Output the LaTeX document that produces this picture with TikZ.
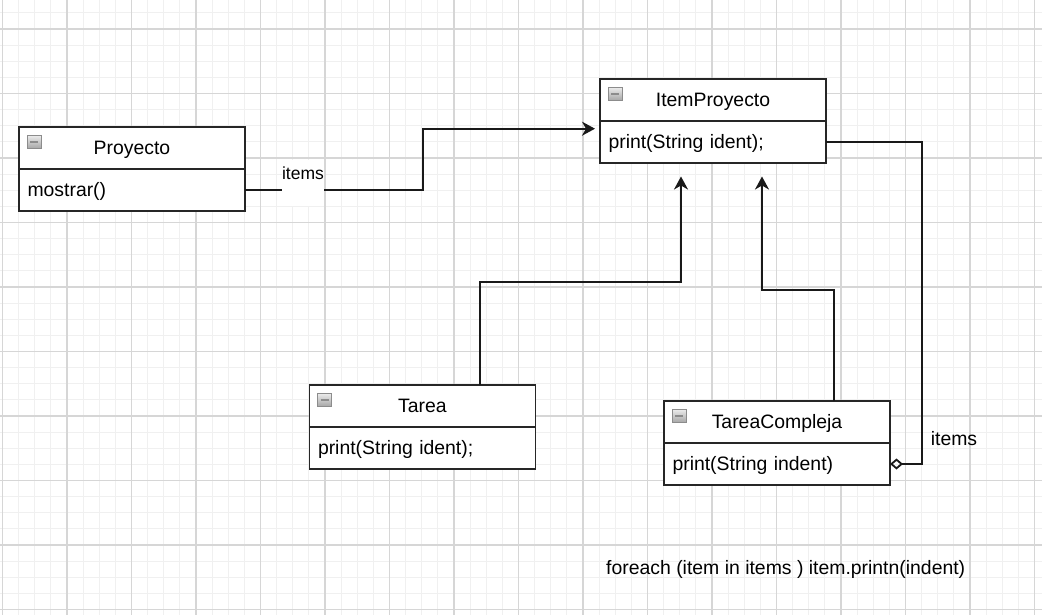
\documentclass[tikz,border=0pt]{standalone}
\usepackage{fontspec}
\setmainfont{Liberation Sans}
\usetikzlibrary{arrows.meta,positioning,calc}

\begin{document}
\begin{tikzpicture}[x=1pt, y=-1pt,
    font=\fontsize{19.4}{23}\selectfont,
    gridminor/.style={draw=black!6, line width=1pt},
    gridmajor/.style={draw=black!16, line width=1.1pt},
    classhead/.style={draw=black!85, line width=1.9pt, fill=white, minimum width=226pt, minimum height=42pt,
      outer sep=0pt, text width=209pt, inner xsep=8.5pt, align=center, text height=13pt, text depth=0pt},
    classbody/.style={classhead, align=left},
    minusicon/.style={draw=black!45, line width=1pt, minimum width=14pt, minimum height=13pt, inner sep=0pt,
      top color=black!8, bottom color=black!35,
      path picture={\draw[line width=1.8pt] ($(path picture bounding box.west)+(3pt,0pt)$) -- ($(path picture bounding box.east)+(-3pt,0pt)$);}},
    assoc/.style={draw=black!90, line width=1.8pt, -{Stealth[length=13pt,width=14pt,inset=4pt]}},
    aggr/.style={draw=black!90, line width=1.8pt, {Diamond[open,length=13pt,width=11pt]}-},
    edgelabel/.style={inner sep=0pt, text height=13pt, text depth=0pt}]

      \useasboundingbox (0,0) rectangle (1042,615);
      \fill[white] (0,0) rectangle (1042,615);

      % grid
      \foreach \i in {0,...,64} \draw[gridminor] ({2.5+16.125*\i},0) -- ({2.5+16.125*\i},615);
      \foreach \j in {-1,...,36} \draw[gridminor] (0,{29+16.125*\j}) -- (1042,{29+16.125*\j});
      \foreach \i in {0,...,16} \draw[gridmajor] ({2.5+64.5*\i},0) -- ({2.5+64.5*\i},615);
      \foreach \j in {0,...,9} \draw[gridmajor] (0,{29+64.5*\j}) -- (1042,{29+64.5*\j});

      % classes
      \node[classhead] (proyecto) at (132,148) {Proyecto};
      \node[classbody, below=0pt of proyecto] (proyecto-ops) {mostrar()};
      \node[minusicon] (proyecto-icon) at ([shift={(15pt,-15pt)}]proyecto.north west) {};

      \node[classhead] (item) at (713,100) {ItemProyecto};
      \node[classbody, below=0pt of item] (item-ops) {print(String ident);};
      \node[minusicon] (item-icon) at ([shift={(15pt,-15pt)}]item.north west) {};

      \node[classhead] (tarea) at (422.5,406) {Tarea};
      \node[classbody, below=0pt of tarea] (tarea-ops) {print(String ident);};
      \node[minusicon] (tarea-icon) at ([shift={(15pt,-15pt)}]tarea.north west) {};

      \node[classhead] (tcompleja) at (777,422) {TareaCompleja};
      \node[classbody, below=0pt of tcompleja] (tcompleja-ops) {print(String indent)};
      \node[minusicon] (tcompleja-icon) at ([shift={(15pt,-15pt)}]tcompleja.north west) {};

      \coordinate (item-in) at (595,128.7);
      \coordinate (tarea-in) at (681,176.5);
      \coordinate (tcompleja-in) at (762,176.5);

      % connectors
      \draw[assoc] (proyecto-ops.east) -| (423,128.7) -- (item-in);
      \node[edgelabel, fill=white, font=\fontsize{17.5}{21}\selectfont, text height=20pt, text depth=26pt] (items-a) at (303,183) {items};

      \draw[assoc] ([xshift=57.5pt]tarea.north) |- (681,282) -- (tarea-in);
      \draw[assoc] ([xshift=57pt]tcompleja.north) |- (762,290) -- (tcompleja-in);

      \draw[aggr] (tcompleja-ops.east) -- ++(32,0) |- (item-ops.east);
      \node[edgelabel] (items-b) at (954,438.5) {items};

      \node[edgelabel, anchor=west] (note) at (606,567.5) {foreach (item in items ) item.printn(indent)};
\end{tikzpicture}
\end{document}
